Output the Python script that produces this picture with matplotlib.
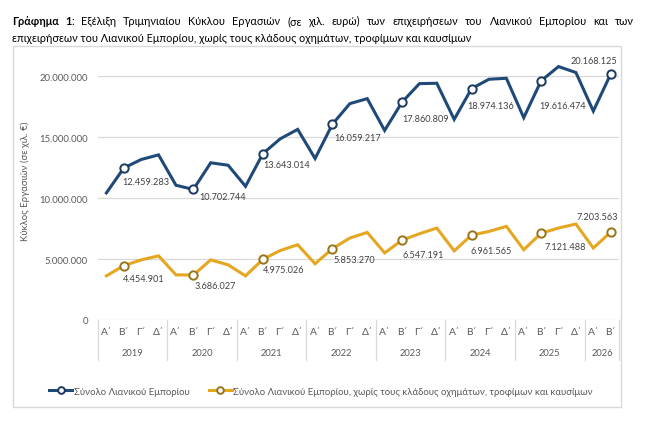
import matplotlib
matplotlib.use('Agg')
import matplotlib.pyplot as plt
import matplotlib.transforms as mtransforms
from matplotlib.lines import Line2D
from matplotlib.patches import Rectangle
from matplotlib import font_manager
from matplotlib.ft2font import FT2Font

# ---------------- data ----------------
years = ['2019', '2020', '2021', '2022', '2023', '2024', '2025', '2026']
quarters = ['Α΄', 'Β΄', 'Γ΄', 'Δ΄']
quarter_labels = [q for y in years for q in quarters][:30]

total_retail = [
    10420000, 12459283, 13160000, 13540000,
    11050000, 10702744, 12890000, 12690000,
    10960000, 13643014, 14860000, 15630000,
    13240000, 16059217, 17740000, 18150000,
    15540000, 17860809, 19380000, 19410000,
    16450000, 18974136, 19740000, 19820000,
    16590000, 19616474, 20780000, 20290000,
    17130000, 20168125,
]
retail_excl = [
    3620000, 4454901, 4930000, 5260000,
    3700000, 3686027, 4930000, 4520000,
    3620000, 4975026, 5700000, 6170000,
    4610000, 5853270, 6720000, 7180000,
    5500000, 6547191, 7070000, 7540000,
    5670000, 6961565, 7260000, 7680000,
    5760000, 7121488, 7540000, 7870000,
    5900000, 7203563,
]
series_names = ['Σύνολο Λιανικού Εμπορίου',
                'Σύνολο Λιανικού Εμπορίου, χωρίς τους κλάδους οχημάτων, τροφίμων και καυσίμων']
y_ticks = [0, 5000000, 10000000, 15000000, 20000000]
y_label = 'Κύκλος Εργασιών (σε χιλ. €)'
title_bold = 'Γράφημα 1'
title_line1 = ': Εξέλιξη Τριμηνιαίου Κύκλου Εργασιών (σε χιλ. ευρώ) των επιχειρήσεων του Λιανικού Εμπορίου και των'
title_line2 = 'επιχειρήσεων του Λιανικού Εμπορίου, χωρίς τους κλάδους οχημάτων, τροφίμων και καυσίμων'

# ---------------- styles ----------------
BLUE = '#1F4A78'
BLUE_EDGE = '#1B3A5E'
GOLD = '#E5A620'
GOLD_EDGE = '#9A7418'
GRID = '#D9D9D9'
TXT = '#595959'
LBL = '#404040'

def has_greek(fam):
    try:
        path = font_manager.findfont(font_manager.FontProperties(family=fam),
                                     fallback_to_default=False)
        cm = FT2Font(path).get_charmap()
        return all(ord(c) in cm for c in 'ΛώΓΕίσ')
    except Exception:
        return False

base_font = 'DejaVu Sans'
for f in ['Lato', 'Open Sans', 'Noto Sans']:
    if has_greek(f):
        base_font = f
        break
FAM = [base_font, 'DejaVu Sans']
plt.rcParams['font.family'] = FAM

W, H = 649, 427
fig = plt.figure(figsize=(W / 100, H / 100), dpi=100)
renderer = fig.canvas.get_renderer()

def px(x, y):
    return x / W, 1 - y / H

def fit_size(text, target_px, weight='normal', base=10.0):
    t = fig.text(0, 0, text, fontsize=base, fontweight=weight, family=FAM)
    w = t.get_window_extent(renderer).width
    t.remove()
    return base * target_px / w

fs_data = fit_size('12.459.283', 47)
fs_tick = fit_size('20.000.000', 49)
fs_year = fit_size('2019', 21.7)
fs_leg = fit_size(series_names[0], 117)
fs_ylab = fit_size(y_label, 120)
fs_title = fit_size(title_line2, 458)

# ---------------- axes ----------------
left_px, right_px, top_px, bottom_px = 97.7, 619.4, 60, 321
ax = fig.add_axes([left_px / W, 1 - bottom_px / H, (right_px - left_px) / W,
                   (bottom_px - top_px) / H])
n = len(total_retail)
x = list(range(n))
ax.set_xlim(-0.5, n - 0.5)
ax.set_ylim(0, 21.4e6)
for s in ax.spines.values():
    s.set_visible(False)
ax.set_xticks([])
ax.set_yticks(y_ticks)
ax.set_yticklabels([f'{v:,}'.replace(',', '.') for v in y_ticks], fontsize=fs_tick, color=TXT)
ax.tick_params(axis='y', length=0, pad=7)
ax.yaxis.grid(True, color=GRID, lw=0.9)
ax.set_axisbelow(True)

mk_idx = [i for i in range(n) if i % 4 == 1]
l1, = ax.plot(x, total_retail, color=BLUE, lw=2.2, marker='o', markevery=mk_idx,
              markersize=6, markerfacecolor='white', markeredgecolor=BLUE_EDGE,
              markeredgewidth=1.4, solid_joinstyle='miter', zorder=3)
l2, = ax.plot(x, retail_excl, color=GOLD, lw=2.2, marker='o', markevery=mk_idx,
              markersize=6, markerfacecolor='white', markeredgecolor=GOLD_EDGE,
              markeredgewidth=1.4, solid_joinstyle='miter', zorder=3)

# data labels (pixel offsets)
blue_off = [(-1, -13, 'left'), (5.6, -7.4, 'left'), (0.5, -11, 'left'), (1.5, -13.6, 'left'),
            (0, -16, 'left'), (-4, -17, 'left'), (-2, -24.5, 'left'), (7, 14, 'right')]
gold_off = [(-1, -12.5, 'left'), (1.6, -10.5, 'left'), (0, -10.5, 'left'), (1, -11, 'left'),
            (0, -14, 'left'), (-1.5, -15.6, 'left'), (3.5, -13, 'left'), (7, 15.7, 'right')]
for series, offs in ((total_retail, blue_off), (retail_excl, gold_off)):
    for k, i in enumerate(mk_idx):
        dx, dy, ha = offs[k]
        ax.annotate(f'{series[i]:,}'.replace(',', '.'), (i, series[i]),
                    xytext=(dx, dy), textcoords='offset pixels', ha=ha, va='center',
                    fontsize=fs_data, color=LBL, zorder=4)

# category axis
bt = mtransforms.blended_transform_factory(ax.transData, fig.transFigure)
for i, q in enumerate(quarter_labels):
    ax.text(i, 1 - 333 / H, q, transform=bt, ha='center', va='center',
            fontsize=fs_year * 1.1, color=TXT, clip_on=False)
bounds = [-0.5]
for yi, yr in enumerate(years):
    start = yi * 4
    end = min(start + 4, n)
    ax.text((start + end - 1) / 2, 1 - 354 / H, yr, transform=bt, ha='center', va='center',
            fontsize=fs_year, color=TXT, clip_on=False)
    bounds.append(end - 0.5)
for b in bounds:
    ax.add_line(Line2D([b, b], [1 - 321 / H, 1 - 361 / H], transform=bt, color=GRID,
                       lw=0.9, clip_on=False))

# y label
fig.text(*px(25, 181.5), y_label, rotation=90, ha='center', va='center',
         fontsize=fs_ylab, color=TXT)

# outer chart frame
fig.add_artist(Rectangle(px(13, 408), (621 - 13) / W, (408 - 46.7) / H,
                         transform=fig.transFigure, fill=False, edgecolor=GRID, lw=1))

# legend
fig.legend([l1, l2], series_names, loc='center', bbox_to_anchor=px(321, 392.3), ncol=2,
           frameon=False, fontsize=fs_leg, handlelength=2.4, handletextpad=0.15,
           columnspacing=2.0, labelcolor=TXT, markerscale=0.8)

# ---------------- justified title ----------------
def seg_width(text, weight, size):
    t = fig.text(0, 0, text, fontsize=size, fontweight=weight, family=FAM)
    w = t.get_window_extent(renderer).width
    t.remove()
    return w

words = [[(title_bold.split()[0], 'bold')],
         [(title_bold.split()[1], 'bold'), (title_line1.split()[0], 'normal')]]
words += [[(w, 'normal')] for w in title_line1.split()[1:]]
x0, x1 = 12, 634
widths = [sum(seg_width(t, wt, fs_title) for t, wt in w) for w in words]
gap = (x1 - x0 - sum(widths)) / (len(words) - 1)
cx = x0
for w, wd in zip(words, widths):
    sx = cx
    for t, wt in w:
        fig.text(*px(sx, 25), t, fontsize=fs_title, fontweight=wt, color='#000000',
                 ha='left', va='baseline')
        sx += seg_width(t, wt, fs_title)
    cx += wd + gap
fig.text(*px(x0, 42), title_line2, fontsize=fs_title, color='#000000', ha='left', va='baseline')

fig.savefig('out.png', dpi=100)
